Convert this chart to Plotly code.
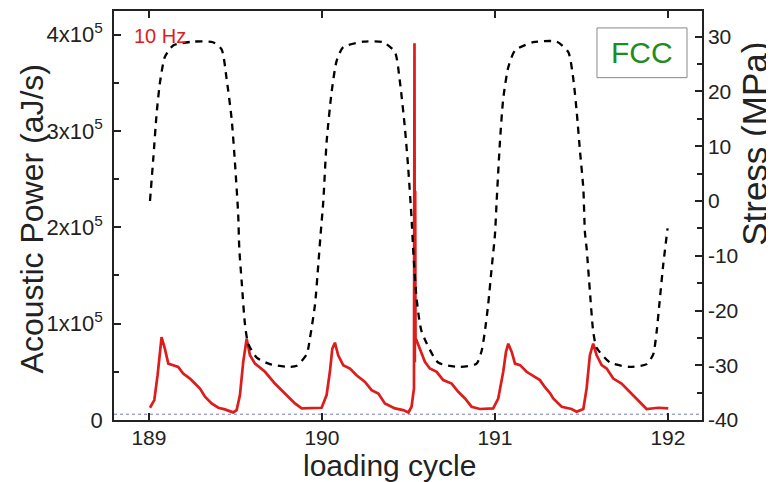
import plotly.graph_objects as go

# ---- data ----
cycle_ae = [189.006, 189.031, 189.050, 189.064, 189.073, 189.092, 189.112, 189.140, 189.169, 189.198,
            189.237, 189.266, 189.295, 189.324, 189.362, 189.401, 189.439, 189.487, 189.507, 189.526,
            189.545, 189.565, 189.584, 189.613, 189.671, 189.728, 189.786, 189.844, 189.883, 189.940,
            189.998, 190.027, 190.046, 190.060, 190.075, 190.094, 190.123, 190.162, 190.200, 190.249,
            190.287, 190.326, 190.364, 190.422, 190.470, 190.500, 190.518, 190.532, 190.535, 190.537,
            190.539, 190.541, 190.547, 190.566, 190.595, 190.624, 190.663, 190.701, 190.750, 190.788,
            190.827, 190.865, 190.913, 190.990, 191.019, 191.048, 191.064, 191.077, 191.097, 191.116,
            191.145, 191.183, 191.231, 191.260, 191.289, 191.318, 191.337, 191.386, 191.443, 191.472,
            191.511, 191.530, 191.549, 191.568, 191.588, 191.617, 191.646, 191.684, 191.732, 191.780,
            191.828, 191.877, 191.944, 192.002]
power_ae = [12700, 20700, 46500, 74000, 86100, 74000, 58500, 56900, 55100, 48200,
            43000, 37800, 32700, 24100, 17200, 12700, 11000, 7900, 10300, 25900,
            60300, 84400, 67200, 58500, 50000, 37800, 27500, 17200, 12000, 12000,
            12700, 25900, 50000, 74000, 80200, 67200, 56900, 53400, 46500, 39600,
            31000, 27500, 17200, 12000, 10300, 7900, 13800, 32700, 391000, 60000,
            238000, 85000, 82700, 74000, 60400, 53400, 50000, 41400, 37800, 29300,
            22300, 13800, 11400, 12000, 22300, 50000, 70700, 79200, 70700, 58500,
            56900, 50000, 44800, 41400, 34000, 28000, 22300, 13800, 11400, 8600,
            11400, 32700, 67200, 79200, 67200, 56900, 53400, 43000, 37800, 29300,
            20700, 11400, 12700, 12000]

cycle_stress = [189.006, 189.025, 189.045, 189.064, 189.092, 189.140, 189.254, 189.370, 189.420, 189.449,
                189.478, 189.497, 189.516, 189.522, 189.536, 189.555, 189.574, 189.623, 189.699, 189.815,
                189.854, 189.912, 189.931, 189.960, 189.979, 189.992, 190.008, 190.027, 190.056, 190.085,
                190.123, 190.239, 190.354, 190.422, 190.451, 190.480, 190.499, 190.518, 190.528, 190.547,
                190.576, 190.672, 190.798, 190.894, 190.923, 190.942, 190.961, 190.981, 191.000, 191.010,
                191.029, 191.048, 191.077, 191.116, 191.221, 191.357, 191.424, 191.453, 191.473, 191.492,
                191.511, 191.520, 191.530, 191.549, 191.568, 191.588, 191.665, 191.780, 191.877, 191.915,
                191.935, 191.954, 191.973, 191.998]
stress_mpa = [0.0, 7.7, 16.2, 21.7, 26.3, 28.4, 29.1, 29.0, 27.7, 22.3,
              15.0, 7.1, -2.5, -8.6, -14.7, -22.5, -26.1, -28.6, -29.8, -30.3,
              -30.1, -28.0, -25.0, -18.9, -11.6, -6.2, 0.0, 10.8, 19.9, 25.6,
              28.1, 29.1, 29.0, 27.2, 21.7, 13.2, 5.9, -3.2, -9.2, -17.7,
              -23.8, -29.5, -30.3, -29.7, -27.4, -23.8, -18.9, -12.3, -6.2, 0.0,
              10.8, 18.7, 24.4, 27.5, 29.0, 29.1, 27.2, 22.3, 16.2, 9.0,
              2.3, -5.6, -8.6, -16.5, -23.8, -26.8, -29.5, -30.3, -29.8, -28.0,
              -23.8, -17.7, -11.6, -5.0]

baseline_level = 6000
x_range = [188.798, 192.197]
power_range = [0, 424400]
stress_range = [-40, 34.7]
power_tickvals = [0, 100000, 200000, 300000, 400000]
power_ticktext = ["0", "1x10<sup>5</sup>", "2x10<sup>5</sup>", "3x10<sup>5</sup>", "4x10<sup>5</sup>"]
cycle_tickvals = [189, 190, 191, 192]
stress_tickvals = [-40, -30, -20, -10, 0, 10, 20, 30]
stress_ticktext = ["-40", "-30", "-20", "-10", "0", "10", "20", "30"]

FONT = "Arial, Liberation Sans, sans-serif"
RED = "#dd1c1c"
INK = "#222"

fig = go.Figure()
fig.add_trace(go.Scatter(x=x_range, y=[baseline_level, baseline_level], mode="lines",
                         line=dict(color="#7a7ab8", width=1, dash="dot"), hoverinfo="skip"))
fig.add_trace(go.Scatter(x=cycle_ae, y=power_ae, mode="lines",
                         line=dict(color=RED, width=2.7)))
fig.add_trace(go.Scatter(x=cycle_stress, y=stress_mpa, mode="lines", yaxis="y2",
                         line=dict(color="black", width=2.3, dash="7px,6px", shape="spline", smoothing=0.6)))

axis_common = dict(showline=True, linecolor=INK, linewidth=1.5, showgrid=False, zeroline=False,
                   ticks="inside", tickcolor=INK, tickwidth=1.5, ticklen=7)

fig.update_layout(
    width=774, height=482,
    margin=dict(l=106, r=80, t=1, b=70),
    paper_bgcolor="white", plot_bgcolor="white",
    showlegend=False,
    font=dict(family=FONT, color=INK),
    xaxis=dict(range=x_range, tickvals=cycle_tickvals, mirror="ticks", ticklabelstandoff=-2,
               tickfont=dict(size=21, family=FONT, color=INK), **axis_common),
    yaxis=dict(range=power_range, tickvals=power_tickvals, ticktext=power_ticktext,
               tickfont=dict(size=22, family=FONT, color=INK), ticklabelstandoff=5,
               minor=dict(ticks="inside", dtick=50000, ticklen=5, tickcolor=INK, tickwidth=1.5),
               **axis_common),
    yaxis2=dict(range=stress_range, tickvals=stress_tickvals, ticktext=stress_ticktext,
                overlaying="y", side="right",
                tickfont=dict(size=21, family=FONT, color=INK),
                minor=dict(ticks="inside", dtick=5, ticklen=5, tickcolor=INK, tickwidth=1.5),
                **axis_common),
)

ann = dict(xref="paper", yref="paper", showarrow=False, xanchor="center", yanchor="middle")
fig.add_annotation(text="Acoustic Power (aJ/s)", x=-0.139, y=0.491, textangle=-90,
                   font=dict(size=32, family=FONT, color=INK), **ann)
fig.add_annotation(text="Stress (MPa)", x=1.089, y=0.676, textangle=-90,
                   font=dict(size=35, family=FONT, color=INK), **ann)
fig.add_annotation(text="loading cycle", x=0.469, y=-0.112,
                   font=dict(size=30, family=FONT, color=INK), **ann)
fig.add_annotation(text="10 Hz", x=0.078, y=0.939,
                   font=dict(size=20, family=FONT, color=RED), **ann)
fig.add_shape(type="rect", xref="paper", yref="paper", x0=0.8214, x1=0.9745, y0=0.837, y1=0.9586,
              line=dict(color="#888", width=1))
fig.add_annotation(text="FCC", x=0.898, y=0.898,
                   font=dict(size=30, family=FONT, color="#1e8c1e"), **ann)

fig.write_html("out.html")
